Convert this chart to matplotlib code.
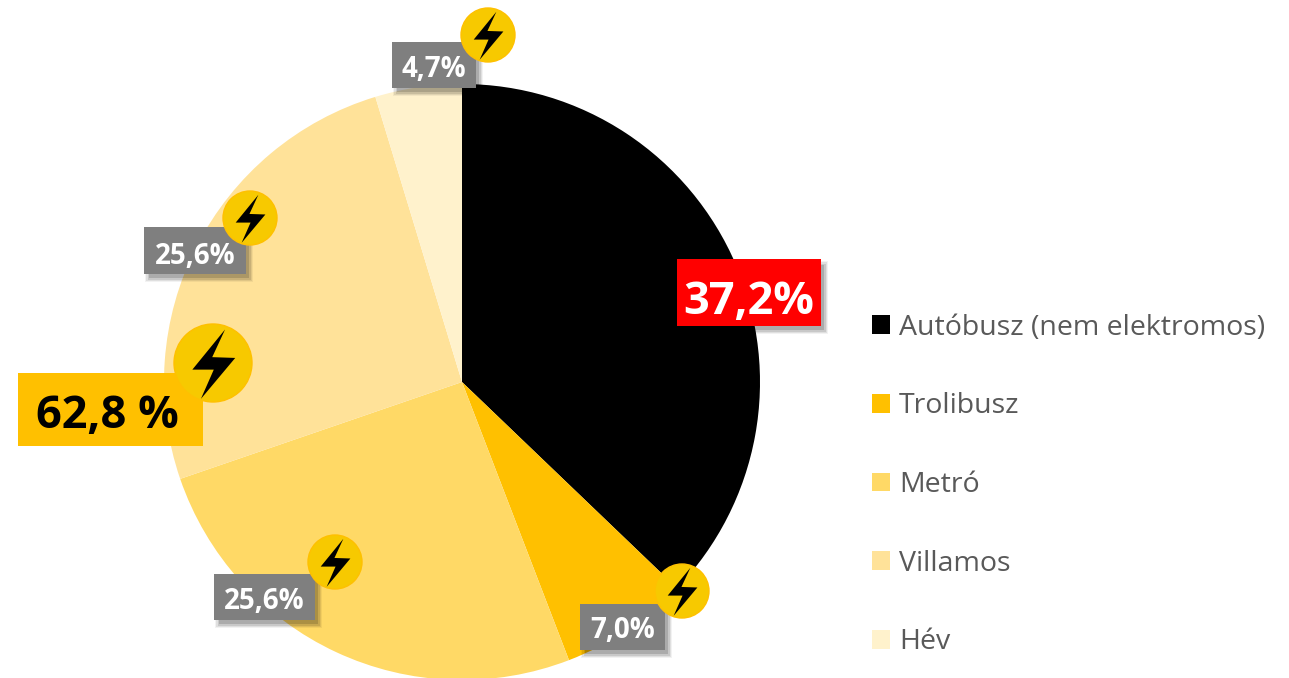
import matplotlib.pyplot as plt
from matplotlib.patches import Circle, Patch, Polygon, Rectangle

plt.rcParams["font.family"] = ["Open Sans", "DejaVu Sans"]

# %% Data

CATEGORIES = ["Autóbusz (nem elektromos)", "Trolibusz", "Metró", "Villamos", "Hév"]
VALUES = [37.2, 7.0, 25.6, 25.6, 4.7]
COLORS = ["#000000", "#FFC000", "#FFD966", "#FFE299", "#FFF2CC"]

SMALL_LABELS = ["4,7%", "25,6%", "25,6%", "7,0%"]
RED_LABEL = "37,2%"
TOTAL_LABEL = "62,8 %"

# %% Layout, in image pixels (x0, y0, x1, y1)

W, H = 1289, 678
SMALL_BOXES = [
    (392, 42, 476, 88),
    (144, 227, 246, 274),
    (214, 574, 315, 620),
    (580, 604, 665, 650),
]
SMALL_DROPS = [1, 3, 1, 0]
RED_BOX = (677, 259, 821, 326)
TOTAL_BOX = (18, 373, 203, 446)
ICONS = [(488, 35, 27), (250, 218, 27), (335, 562, 27), (682, 591, 27), (213, 363, 39)]
BOLT = [(0.31, -0.86), (-0.53, 0.17), (0.02, 0.17), (-0.31, 0.92), (0.57, -0.13), (-0.02, -0.15)]

fig = plt.figure(figsize=(W / 100, H / 100), dpi=100)
ax = fig.add_axes([0, 0, 1, 1])

wedges, _ = ax.pie(
    VALUES,
    colors=COLORS,
    center=(462, H - 382),
    radius=298,
    startangle=90,
    counterclock=False,
    normalize=True,
    frame=True,
)
ax.set_xlim(0, W)
ax.set_ylim(0, H)
ax.set_aspect("equal")
ax.axis("off")


def box(bounds, color, zorder=3):
    x0, y0, x1, y1 = bounds
    ax.add_patch(Rectangle((x0, H - y1), x1 - x0, y1 - y0, fc=color, ec="none", zorder=zorder))


def shadow(bounds):
    # soft drop shadow from a few stacked see-through boxes
    x0, y0, x1, y1 = bounds
    for grow, alpha in [(4, 0.05), (3, 0.08), (1.5, 0.1), (0, 0.14)]:
        box((x0 + 5 - grow, y0 + 6 - grow, x1 + 3 + grow, y1 + 4 + grow), (0, 0, 0, alpha), zorder=2)


def label(bounds, text, color, size, drop, shift=0):
    x0, y0, x1, y1 = bounds
    ax.text((x0 + x1) / 2 + shift, H - (y0 + y1) / 2 - drop, text, color=color, fontsize=size,
            fontweight="bold", ha="center", va="center_baseline", zorder=4)


for bounds, text, drop in zip(SMALL_BOXES, SMALL_LABELS, SMALL_DROPS):
    shadow(bounds)
    box(bounds, "#7F7F7F")
    label(bounds, text, "white", 20, drop)

shadow(RED_BOX)
box(RED_BOX, "#FF0000")
label(RED_BOX, RED_LABEL, "white", 32.5, 4)

box(TOTAL_BOX, "#FFC000")
label(TOTAL_BOX, TOTAL_LABEL, "black", 32.5, 2, shift=-3)

for x, y, r in ICONS:
    ax.add_patch(Circle((x, H - y), r, fc="#F7C900", ec="#FFC000", lw=1, zorder=5))
    ax.add_patch(Polygon([(x + r * bx, H - y - r * by) for bx, by in BOLT], fc="black", ec="none", zorder=6))

handles = [Patch(fc=c, ec="none") for c in COLORS]
ax.legend(
    handles,
    CATEGORIES,
    loc="center left",
    bbox_to_anchor=(872, H - 485),
    bbox_transform=ax.transData,
    frameon=False,
    fontsize=20.5,
    labelcolor="#595959",
    handlelength=0.63,
    handleheight=0.63,
    handletextpad=0.32,
    labelspacing=1.78,
    borderpad=0,
    borderaxespad=0,
)

fig.savefig("out.png", dpi=100)
